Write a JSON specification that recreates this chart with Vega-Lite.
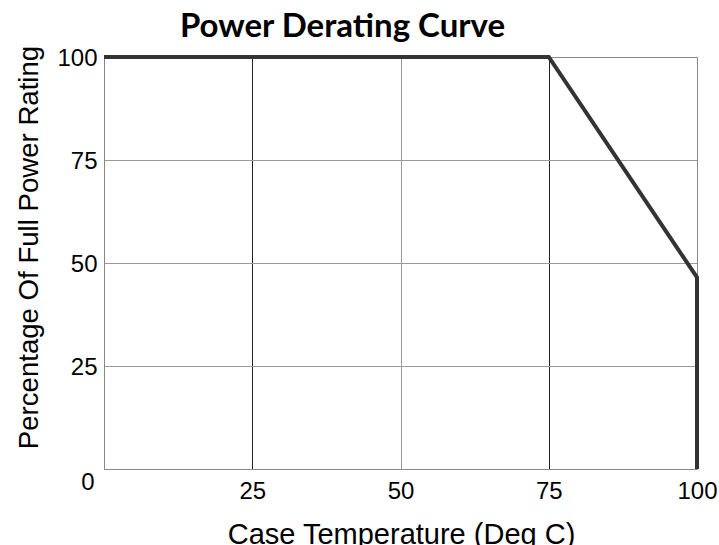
{
  "$schema": "https://vega.github.io/schema/vega-lite/v6.json",
  "autosize": {"type": "none"},
  "width": 593,
  "height": 412,
  "padding": {"left": 104, "top": 57, "right": 22, "bottom": 76},
  "background": "white",
  "title": {
    "text": "Power Derating Curve",
    "font": "Lato",
    "fontSize": 33,
    "fontWeight": "bold",
    "color": "#000000",
    "anchor": "middle",
    "dx": -58,
    "dy": 7,
    "offset": 8
  },
  "config": {
    "view": {"stroke": "#888888", "strokeWidth": 1},
    "axis": {
      "labelFont": "Liberation Sans",
      "titleFont": "Liberation Sans",
      "labelColor": "#000000",
      "titleColor": "#000000",
      "titleFontWeight": "normal",
      "ticks": false,
      "domainColor": "#888888",
      "domainWidth": 1
    }
  },
  "data": {
    "values": [
      {"i": 0, "temp": 0, "pct": 100},
      {"i": 1, "temp": 75, "pct": 100},
      {"i": 2, "temp": 100, "pct": 46.5},
      {"i": 3, "temp": 100, "pct": 0}
    ]
  },
  "mark": {"type": "line", "color": "#333333", "strokeWidth": 4, "strokeJoin": "miter", "clip": false},
  "encoding": {
    "order": {"field": "i", "type": "quantitative"},
    "x": {
      "field": "temp",
      "type": "quantitative",
      "scale": {"domain": [0, 100], "nice": false},
      "axis": {
        "values": [25, 50, 75, 100],
        "title": "Case Temperature (Deg C)",
        "titleFontSize": 29,
        "titleX": 297,
        "titleY": 74,
        "titleBaseline": "alphabetic",
        "titleAlign": "center",
        "labelFontSize": 24,
        "labelBaseline": "alphabetic",
        "labelPadding": 29,
        "labelFlush": false,
        "grid": true,
        "gridColor": {"condition": {"test": "datum.value === 50", "value": "#999999"}, "value": "#222222"},
        "gridOpacity": {"condition": {"test": "datum.value === 100", "value": 0}, "value": 1},
        "gridWidth": 1
      }
    },
    "y": {
      "field": "pct",
      "type": "quantitative",
      "scale": {"domain": [0, 100], "nice": false},
      "axis": {
        "values": [0, 25, 50, 75, 100],
        "title": "Percentage Of Full Power Rating",
        "titleFontSize": 27.6,
        "titleAngle": -90,
        "titleX": -67,
        "titleY": 190,
        "titleBaseline": "alphabetic",
        "titleAlign": "center",
        "labelFontSize": 24,
        "labelBaseline": "middle",
        "labelFlush": false,
        "labelPadding": {"condition": {"test": "datum.value === 0", "value": 10}, "value": 7},
        "labelOffset": {"condition": {"test": "datum.value === 0", "value": 13}, "value": 1},
        "grid": true,
        "gridColor": "#999999",
        "gridOpacity": {"condition": {"test": "datum.value === 0 || datum.value === 100", "value": 0}, "value": 1},
        "gridWidth": 1
      }
    }
  }
}
